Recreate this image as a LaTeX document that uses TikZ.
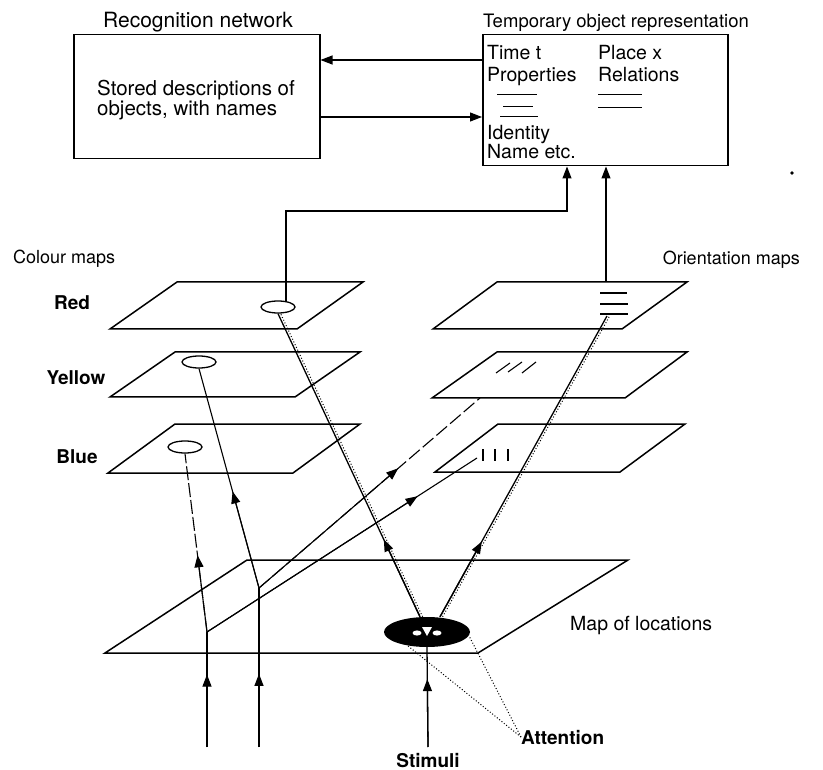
\documentclass[tikz,border=0pt]{standalone}
\usepackage{fontspec}
\setmainfont{TeX Gyre Heros}
\usetikzlibrary{arrows.meta,shapes.geometric,calc}
\newcommand{\txtsize}{\fontsize{19.5}{23}\selectfont}
\newcommand{\lblsize}{\fontsize{19}{23}\selectfont\bfseries}
\begin{document}
\begin{tikzpicture}[x=1pt,y=-1pt,
  plane/.style={line width=1.5pt, line join=miter},
  conn/.style={line width=1.1pt},
  boxst/.style={draw, line width=1.5pt, anchor=north west, inner sep=0pt},
  txt/.style={font=\txtsize, anchor=base west, inner sep=0pt},
  lbl/.style={font=\lblsize, inner sep=0pt},
  spot/.style={draw, line width=1.3pt, ellipse, minimum width=34pt, minimum height=12pt, inner sep=0pt, fill=white},
  tipst/.style={-{Triangle[length=12pt,width=9pt]}},
  dotl/.style={dotted, line width=1pt},
  markl/.style={line width=1.1pt}
]
\useasboundingbox (0,0) rectangle (823,770);

% ---------- boxes ----------
\node[boxst, minimum width=246pt, minimum height=124pt] (rec) at (73,34) {};
\node[boxst, minimum width=245pt, minimum height=131pt] (tor) at (482,34) {};
\node[txt, anchor=base, font=\fontsize{21}{24}\selectfont] (rectitle) at (198,28) {Recognition network};
\node[txt, anchor=base, font=\fontsize{18.5}{22}\selectfont] (tortitle) at (616,28) {Temporary object representation};
\node[txt, font=\fontsize{20.5}{24}\selectfont] (stored1) at (97,96) {Stored descriptions of};
\node[txt, font=\fontsize{20.5}{24}\selectfont] (stored2) at (97,116) {objects, with names};
\node[txt] (timet) at (487,60) {Time t};
\node[txt] (placex) at (598,60) {Place x};
\node[txt] (props) at (487,82) {Properties};
\node[txt] (rels) at (598,82) {Relations};
\node[txt] (ident) at (487,140) {Identity};
\node[txt] (namee) at (487,159) {Name etc.};
\draw[line width=1pt] (497,95) -- (537,95);
\draw[line width=0.8pt] (503,106) -- (533,106);
\draw[line width=1pt] (500,117) -- (538,117);
\draw[line width=1pt] (598,95) -- (642,95);
\draw[line width=0.8pt] (598,107) -- (642,107);

\coordinate (ya) at (0,60);
\coordinate (yb) at (0,117);
\draw[conn, tipst] (tor.west |- ya) -- (rec.east |- ya);
\draw[conn, tipst] (rec.east |- yb) -- (tor.west |- yb);

\fill (792,173) circle (1.8pt);

% ---------- group labels ----------
\node[txt, font=\fontsize{18}{22}\selectfont] (colmaps) at (13,264) {Colour maps};
\node[txt, anchor=base east, font=\fontsize{18}{22}\selectfont] (orimaps) at (800,265) {Orientation maps};

% ---------- colour planes ----------
\draw[plane] (177,282) -- (363,282) -- (297,329) -- (110,329) -- cycle;
\draw[plane] (175,352) -- (360,352) -- (295,397) -- (110,397) -- cycle;
\draw[plane] (175,424) -- (360,424) -- (293,473) -- (108,473) -- cycle;
\node[lbl] (lred) at (72,303) {Red};
\node[lbl] (lyel) at (76,378) {Yellow};
\node[lbl] (lblu) at (77,457) {Blue};

% ---------- orientation planes ----------
\draw[plane] (497,282) -- (687,282) -- (622,329) -- (433,329) -- cycle;
\draw[plane] (497,352) -- (687,352) -- (625,398) -- (432,398) -- cycle;
\draw[plane] (498,424) -- (685,424) -- (620,472) -- (435,472) -- cycle;
\draw[markl] (600,293) -- (627,293);
\draw[markl] (600,304) -- (628,304);
\draw[markl] (600,314) -- (628,314);
\draw[markl] (496,373) -- (510,363);
\draw[markl] (508,372) -- (522,362);
\draw[markl] (522,373) -- (536,362);
\draw[markl] (483,449) -- (483,461);
\draw[markl] (495,449) -- (495,461);
\draw[markl] (508,449) -- (508,461);

% ---------- map of locations ----------
\draw[plane] (247,560) -- (628,560) -- (478,653) -- (105,653) -- cycle;
\node[txt] (mapl) at (570,630) {Map of locations};

% ---------- spots ----------
\node[spot] (redell) at (278,307) {};
\node[spot] (yelell) at (199,362) {};
\node[spot] (bluell) at (185,447) {};
\node[ellipse, fill=black, minimum width=86pt, minimum height=30pt, inner sep=0pt] (blk) at (427,632) {};
\fill[white] (417,633) ellipse (4.5pt and 2.6pt);
\fill[white] (437,633) ellipse (4.5pt and 2.6pt);
\fill[white] (422,627) -- (432,627) -- (427,636) -- cycle;

% ---------- coordinates ----------
\coordinate (sA) at (207,747);
\coordinate (sB) at (259,747);
\coordinate (jA) at (207,632);
\coordinate (jB) at (259,588);
\coordinate (oBlue) at (477,458);
\coordinate (oYel) at (480,398);
\coordinate (oTop) at (607,316);
\coordinate (oTopEdge) at (606,282);
\coordinate (bendA) at (286,211);
\coordinate (bendB) at (567,211);
\coordinate (stimC) at (428,747);
\coordinate (blkL) at ($(blk.north)+(-7,0)$);
\coordinate (blkR) at ($(blk.north)+(13,0)$);

% ---------- connectors (full lines, then mid-line arrowheads) ----------
\draw[conn] (sA) -- (jA);
\draw[conn, tipst] (sA) -- ($(sA)!0.63!(jA)$);
\draw[conn, dash pattern=on 14pt off 3pt] (jA) -- (bluell.south);
\draw[conn, tipst] (jA) -- ($(jA)!0.43!(bluell.south)$);
\draw[conn] (sB) -- (jB);
\draw[conn, tipst] (sB) -- ($(sB)!0.46!(jB)$);
\draw[conn] (jB) -- (yelell.south);
\draw[conn, tipst] (jB) -- ($(jB)!0.44!(yelell.south)$);
\draw[conn] (jA) -- (oBlue);
\draw[conn, tipst] (jA) -- ($(jA)!0.78!(oBlue)$);
\draw[conn, dash pattern=on 14pt off 4pt] (jB) -- (oYel);
\draw[conn, tipst] (jB) -- ($(jB)!0.63!(oYel)$);

\draw[dotl] ($(blkL)+(2.6,0)$) -- ($(redell.south)+(2.6,0)$);
\draw[conn, line width=1.3pt] (blkL) -- (redell.south);
\draw[conn, line width=1.3pt, tipst] (blkL) -- ($(blkL)!0.255!(redell.south)$);
\draw[dotl] ($(blkR)+(2.6,0)$) -- ($(oTop)+(2.6,0)$);
\draw[conn, line width=1.3pt] (blkR) -- (oTop);
\draw[conn, line width=1.3pt, tipst] (blkR) -- ($(blkR)!0.25!(oTop)$);

\draw[conn, tipst] ($(redell.north)+(8,1)$) -- (bendA) -- (bendB) -- (bendB |- tor.south);
\draw[conn, tipst] (oTopEdge) -- (oTopEdge |- tor.south);

\draw[conn, line width=1.3pt] (stimC) -- (blk.south);
\draw[conn, line width=1.3pt, tipst] (stimC) -- ($(stimC)!0.68!(blk.south)$);

% ---------- stimuli & attention ----------
\node[lbl, anchor=base] (stim) at (428,767) {Stimuli};
\node[lbl, anchor=base west] (attn) at (521,744) {Attention};
\draw[dotl] (attn.west) -- (blk.-5);
\draw[dotl] (attn.west) -- (blk.-145);
\end{tikzpicture}
\end{document}
